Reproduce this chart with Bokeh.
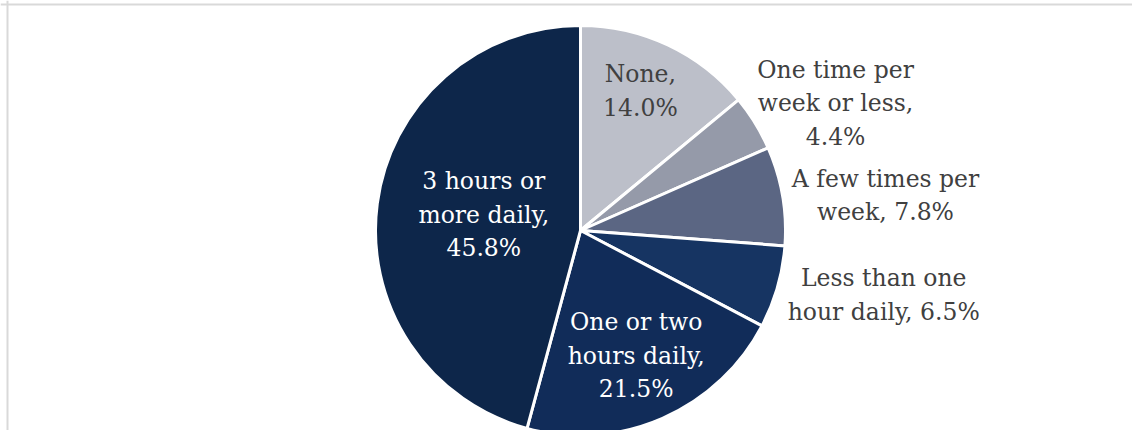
import math
from bokeh.plotting import figure
from bokeh.models import Range1d, Span, ColumnDataSource
from bokeh.core.properties import value
from bokeh.embed import file_html
from bokeh.resources import INLINE

# ---- data ----
categories = ["None", "One time per week or less", "A few times per week",
              "Less than one hour daily", "One or two hours daily", "3 hours or more daily"]
label_text = ["None,\n14.0%", "One time per\nweek or less,\n4.4%", "A few times per\nweek, 7.8%",
              "Less than one\nhour daily, 6.5%", "One or two\nhours daily,\n21.5%", "3 hours or\nmore daily,\n45.8%"]
shares = [14.0, 4.4, 7.8, 6.5, 21.5, 45.8]
colors = ["#bcbfc9", "#959aa9", "#5b6683", "#163462", "#112c59", "#0d264a"]
label_colors = ["#404040", "#404040", "#404040", "#404040", "#ffffff", "#ffffff"]

# ---- layout (data units == reference pixels, y measured upward from 446) ----
W, H = 1132, 430
CX, CY, R = 580, 446 - 230, 205
label_r = [152, 285, 307, 310, 137, 98]          # radial distance of label centre
label_shift = [2.0, -5.2, -3.2, 4.0, 0.4, -1.8]  # degrees of angular nudge

p = figure(width=W, height=H, output_backend="svg", toolbar_location=None,
           x_range=Range1d(0, W), y_range=Range1d(446 - H, 446),
           min_border=0, outline_line_color=None)
p.axis.visible = False
p.grid.visible = False
p.background_fill_color = "white"
p.border_fill_color = "white"

total = sum(shares)
starts, ends, mids = [], [], []
cum = 0.0
for s in shares:
    a0 = math.pi / 2 - 2 * math.pi * (cum + s) / total
    a1 = math.pi / 2 - 2 * math.pi * cum / total
    starts.append(a0)
    ends.append(a1)
    mids.append((a0 + a1) / 2)
    cum += s

src = ColumnDataSource(dict(start=starts, end=ends, color=colors, name=categories))
p.wedge(x=CX, y=CY, radius=R, start_angle="start", end_angle="end", direction="anticlock",
        fill_color="color", line_color="white", line_width=3, source=src)

lx, ly = [], []
for m, r, sh in zip(mids, label_r, label_shift):
    a = m + math.radians(sh)
    lx.append(CX + r * math.cos(a))
    ly.append(CY + r * math.sin(a))

lsrc = ColumnDataSource(dict(x=lx, y=ly, text=label_text, color=label_colors))
p.text(x="x", y="y", text="text", text_color="color", source=lsrc,
       text_font=value("DejaVu Serif"), text_font_size="23.5px",
       text_align="center", text_baseline="middle", text_line_height=1.2)

# chart-area border (top and left edges visible)
p.add_layout(Span(location=446 - 4, dimension="width", line_color="#d9d9d9", line_width=2))
p.add_layout(Span(location=7, dimension="height", line_color="#d9d9d9", line_width=2))

open("out.html", "w").write(file_html(p, INLINE))
